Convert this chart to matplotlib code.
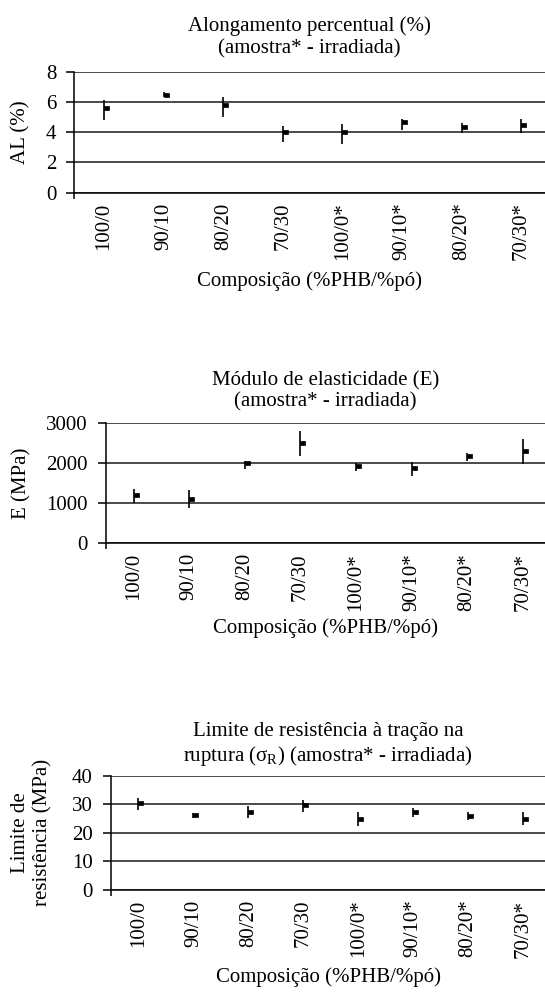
import matplotlib
matplotlib.use("Agg")
import matplotlib.pyplot as plt
import numpy as np
from matplotlib.path import Path

plt.rcParams["font.family"] = ["Liberation Serif", "DejaVu Serif"]
plt.rcParams["mathtext.fontset"] = "custom"
plt.rcParams["mathtext.rm"] = "Liberation Serif"
plt.rcParams["font.size"] = 15

composicao = ["100/0", "90/10", "80/20", "70/30", "100/0*", "90/10*", "80/20*", "70/30*"]

# alongamento percentual (%)
al_media = [5.57, 6.47, 5.80, 4.03, 4.03, 4.69, 4.36, 4.47]
al_min = [4.80, 6.30, 5.02, 3.37, 3.20, 4.14, 3.96, 3.92]
al_max = [6.12, 6.63, 6.34, 4.40, 4.54, 4.90, 4.63, 4.85]

# modulo de elasticidade (MPa)
e_media = [1208, 1117, 2017, 2517, 1933, 1892, 2183, 2317]
e_min = [1000, 875, 1850, 2183, 1817, 1683, 2067, 1975]
e_max = [1358, 1333, 2067, 2808, 2000, 2042, 2250, 2600]

# limite de resistencia (MPa)
lr_media = [30.5, 26.2, 27.4, 29.7, 25.0, 27.3, 25.9, 25.0]
lr_min = [28.0, 25.1, 25.2, 27.1, 22.4, 25.4, 24.4, 22.7]
lr_max = [32.1, 27.0, 29.2, 31.5, 27.3, 28.5, 27.3, 27.3]

W, H = 545, 992
fig = plt.figure(figsize=(W / 100, H / 100), dpi=100)

# little box sitting to the right of the high-low line
flag = Path([(0, -0.4), (1, -0.4), (1, 0.4), (0, 0.4), (0, -0.4)],
            [Path.MOVETO, Path.LINETO, Path.LINETO, Path.LINETO, Path.CLOSEPOLY])


def painel(left, top, bottom, media, lo, hi, ylim, yticks, titulo, ylabel,
           ylab_x, xlab_y, pad, tls):
    ax = fig.add_axes([left / W, 1 - bottom / H, 1 - left / W, (bottom - top) / H])
    x = np.arange(len(composicao))
    ax.vlines(x, lo, hi, color="black", lw=1.2, zorder=3)
    ax.plot(x, media, ls="none", marker=flag, ms=6.5, color="black", mew=0.5, zorder=4)
    ax.set_xlim(-0.5, 7.4)
    ax.set_ylim(*ylim)
    ax.set_yticks(yticks)
    ax.yaxis.grid(True, color="#1a1a1a", lw=1.1)
    ax.set_axisbelow(True)
    for s in ["top", "right"]:
        ax.spines[s].set_visible(False)
    ax.spines["left"].set_linewidth(1.1)
    ax.spines["bottom"].set_linewidth(1.1)
    ax.set_xticks(x)
    ax.set_xticklabels(composicao, rotation=90, va="top", ha="center")
    ax.set_xticks([-0.5], minor=True)
    ax.tick_params(axis="x", which="major", length=0, pad=7)
    ax.tick_params(axis="x", which="minor", length=4, width=1.1, direction="out")
    ax.tick_params(axis="y", length=6, width=1.1, direction="out", pad=7)
    ax.set_title(titulo, pad=pad, linespacing=tls, fontsize=15)
    ax.set_ylabel(ylabel, va="center", ha="center", linespacing=1.2)
    ax.yaxis.set_label_coords((ylab_x - left) / (W - left), 0.5)
    ax.set_xlabel("Composição (%PHB/%pó)", va="center")
    ax.xaxis.set_label_coords(0.5, -(xlab_y - bottom) / (bottom - top))
    return ax


painel(74.3, 71.7, 192.7, al_media, al_min, al_max, (0, 8), [0, 2, 4, 6, 8],
       "Alongamento percentual (%)\n(amostra* - irradiada)", "AL (%)",
       21, 281, 13, 1.25)

painel(105.7, 423.3, 543.3, e_media, e_min, e_max, (0, 3000), [0, 1000, 2000, 3000],
       "Módulo de elasticidade (E)\n(amostra* - irradiada)", "E (MPa)",
       22, 628, 12, 1.15)

painel(111, 775.6, 890, lr_media, lr_min, lr_max, (0, 40), [0, 10, 20, 30, 40],
       "Limite de resistência à tração na\nruptura (σ$_\\mathregular{R}$) (amostra* - irradiada)",
       "Limite de\nresistência (MPa)", 31.5, 977, 10.5, 1.15)

fig.savefig("out.png", dpi=100)
